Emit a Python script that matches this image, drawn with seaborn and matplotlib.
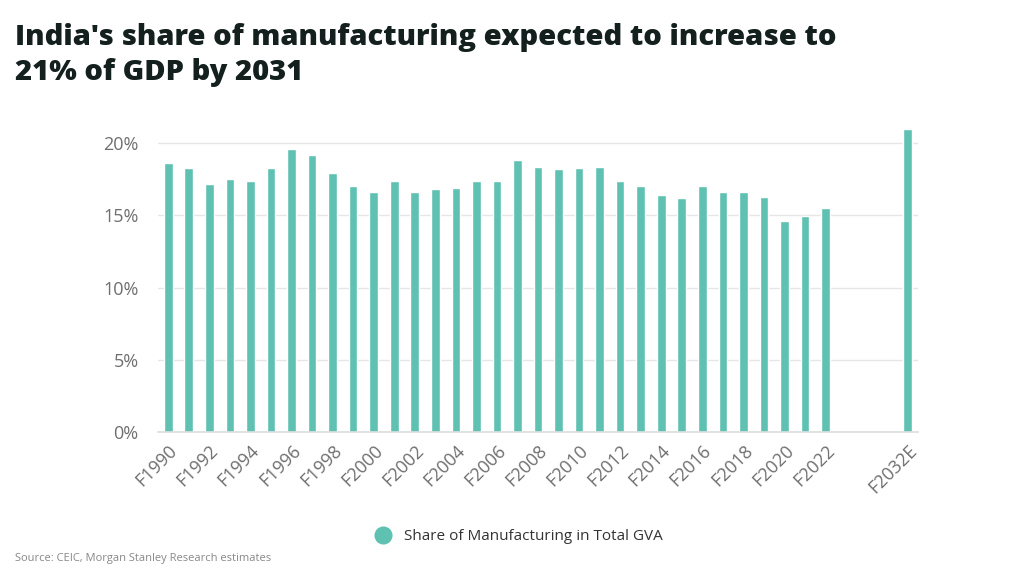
import numpy as np
import pandas as pd
import seaborn as sns
import matplotlib.pyplot as plt
from matplotlib.lines import Line2D

years = ['F%d' % y for y in range(1990, 2023)] + ['F2032E']
share = [18.6, 18.3, 17.2, 17.5, 17.4, 18.3, 19.6, 19.2, 17.9, 17.0,
         16.6, 17.4, 16.65, 16.8, 16.9, 17.4, 17.4, 18.8, 18.35, 18.2,
         18.25, 18.35, 17.4, 17.0, 16.4, 16.2, 17.0, 16.65, 16.6, 16.3,
         14.6, 14.95, 15.5, 20.95]
gap_slots = ['_a', '_b', '_c']
tick_labels = ['F%d' % y for y in range(1990, 2023, 2)] + ['F2032E']
title_lines = ["India's share of manufacturing expected to increase to",
               "21% of GDP by 2031"]

teal = '#5fc1b1'
grey = '#6f6f6f'

sns.set_theme(style='white')
plt.rcParams['font.family'] = ['Open Sans', 'DejaVu Sans']

df = pd.DataFrame({'year': years, 'share': share})
order = years[:-1] + gap_slots + years[-1:]

fig = plt.figure(figsize=(10.24, 5.76), dpi=100)
ax = fig.add_axes([158 / 1024, 1 - 432 / 576, 760 / 1024, 312 / 576])

sns.barplot(data=df, x='year', y='share', order=order, color=teal,
            saturation=1, width=0.42, ax=ax)

ax.set_xlim(-0.5, len(order) - 0.5)
ax.set_ylim(0, 21.6)
ax.set_yticks([0, 5, 10, 15, 20])
ax.set_yticklabels(['%d%%' % v for v in [0, 5, 10, 15, 20]], fontsize=13, color=grey)
ax.yaxis.grid(True, color='#e6e6e6', linewidth=1)
ax.set_axisbelow(True)

pos = [order.index(t) for t in tick_labels]
ax.set_xticks(pos)
ax.set_xticklabels(tick_labels, rotation=45, ha='right', rotation_mode='anchor',
                   fontsize=13, color=grey)
ax.tick_params(axis='x', length=0, pad=7)
ax.tick_params(axis='y', length=0, pad=14)
ax.set_xlabel('')
ax.set_ylabel('')
for s in ['top', 'right', 'left']:
    ax.spines[s].set_visible(False)
ax.spines['bottom'].set_color('#d9dedd')
ax.spines['bottom'].set_linewidth(1.2)

for i, line in enumerate(title_lines):
    fig.text(15 / 1024, 1 - (45 + 35 * i) / 576, line,
             fontsize=21, fontweight=800, color='#14201e',
             family=['Open Sans', 'DejaVu Sans'], va='baseline')

handle = Line2D([], [], marker='o', linestyle='', markersize=12, color=teal)
fig.legend([handle], ['Share of Manufacturing in Total GVA'], loc='center',
           bbox_to_anchor=(515 / 1024, 1 - 537 / 576), frameon=False,
           fontsize=11, labelcolor='#333333', handletextpad=0.4)

fig.text(15 / 1024, 1 - 559 / 576, 'Source: CEIC, Morgan Stanley Research estimates',
         fontsize=8, color='#888888', va='center')

fig.savefig('out.png', dpi=100, facecolor='white')
